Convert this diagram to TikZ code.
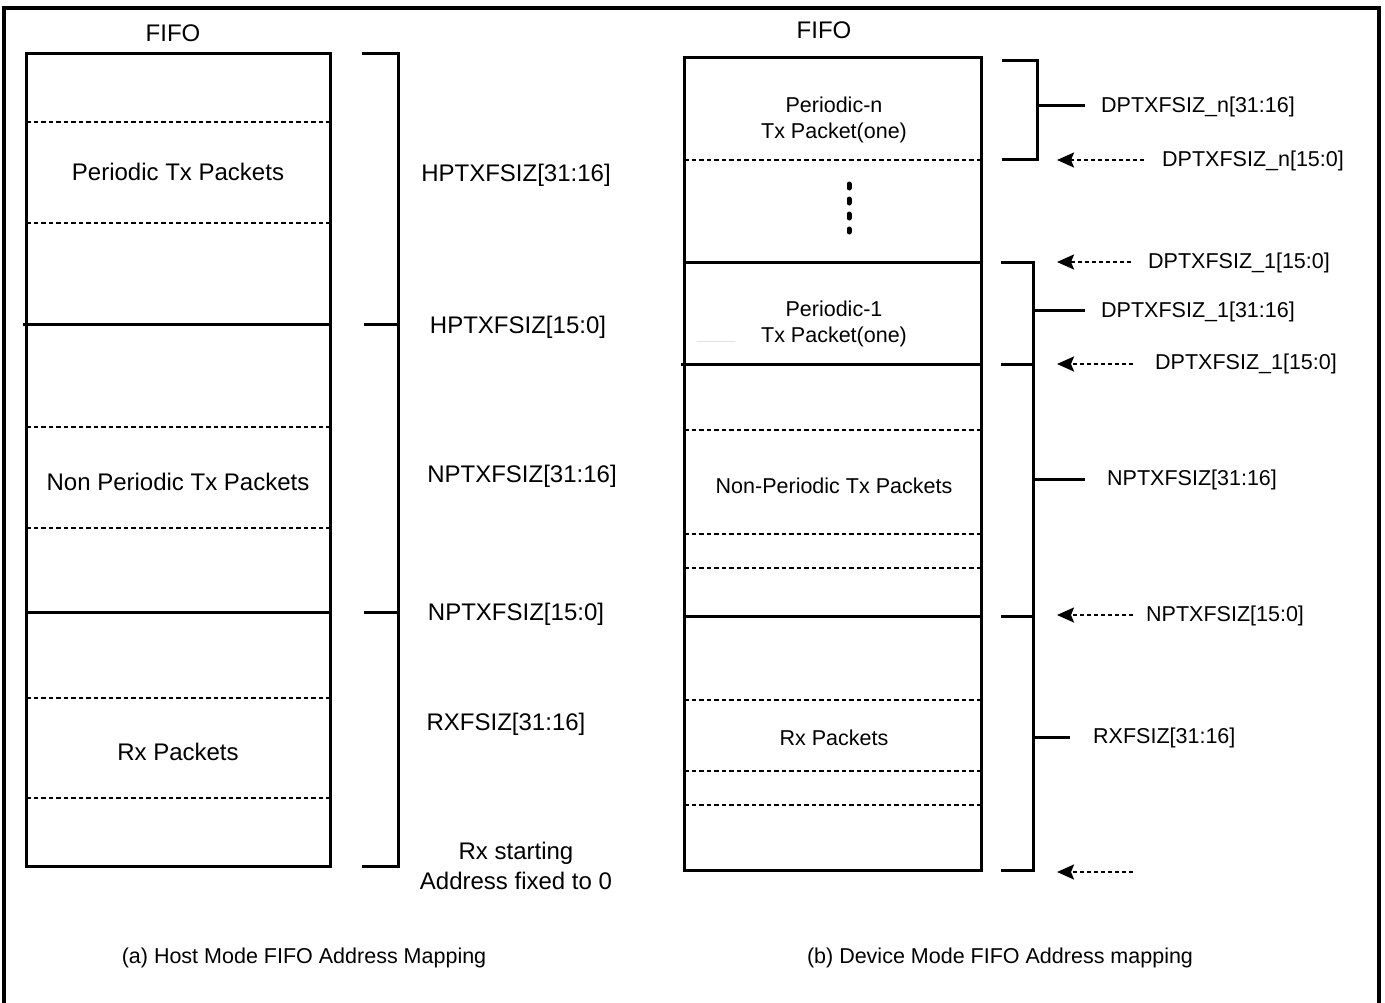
\documentclass[tikz,border=0pt]{standalone}
\usepackage{fontspec}
\setmainfont{Liberation Sans}
\usetikzlibrary{arrows.meta}
\begin{document}
\begin{tikzpicture}[x=1pt,y=-1pt,
  boxline/.style={line width=3pt},
  dline/.style={line width=2.8pt, dash pattern=on 4.5pt off 3pt},
  brk/.style={line width=3pt},
  ptr/.style={line width=2.4pt, dash pattern=on 4pt off 3pt, -{Stealth[length=17pt,width=15pt,inset=3pt]}},
  big/.style={font=\fontsize{24}{30}\selectfont, align=center, inner sep=0pt},
  small/.style={font=\fontsize{21.5}{26}\selectfont, align=center, inner sep=0pt},
]
\useasboundingbox (0,0) rectangle (1385,1002);
% outer frame
\draw[line width=3.5pt] (4,1012) -- (4,8) -- (1379,8) -- (1379,1012);

% ================= (a) Host mode =================
\node[big] (fifoA) at (173,33) {FIFO};
\node[draw, boxline, minimum width=304pt, minimum height=813pt, inner sep=0pt] (boxA) at (178,459.5) {};
\draw[dline] (26,122) -- (330,122);
\draw[dline] (26,223) -- (330,223);
\draw[boxline] (23,324) -- (330,324);
\draw[dline] (26,427) -- (330,427);
\draw[dline] (26,528) -- (330,528);
\draw[boxline] (26,612) -- (330,612);
\draw[dline] (26,698) -- (330,698);
\draw[dline] (26,798) -- (330,798);
\node[big] (pA) at (178,172) {Periodic Tx Packets};
\node[big] (npA) at (178,482) {Non Periodic Tx Packets};
\node[big] (rxA) at (178,752) {Rx Packets};

% bracket
\draw[brk] (362,53) -- (398,53) -- (398,866) -- (362,866);
\draw[brk] (364,324) -- (398,324);
\draw[brk] (364,612) -- (398,612);
\node[big] (h3116) at (516,175) {HPTXFSIZ[31:16]};
\node[big] (h150) at (518,327) {HPTXFSIZ[15:0]};
\node[big] (n3116) at (522,476) {NPTXFSIZ[31:16]};
\node[big] (n150) at (516,614) {NPTXFSIZ[15:0]};
\node[big] (r3116) at (506,724) {RXFSIZ[31:16]};
\node[big] (rxs) at (516,866) {Rx starting\\Address fixed to 0};

\node[small] (capA) at (304,958) {(a) Host Mode FIFO Address Mapping};

% ================= (b) Device mode =================
\node[big] (fifoB) at (824,30) {FIFO};
\node[draw, boxline, minimum width=297pt, minimum height=813pt, inner sep=0pt] (boxB) at (832.5,463.5) {};
\draw[dline] (684,160) -- (981,160);
\draw[boxline] (684,262) -- (981,262);
\draw[boxline] (681,364) -- (981,364);
\draw[dline] (684,430) -- (981,430);
\draw[dline] (684,534) -- (981,534);
\draw[dline] (684,568) -- (981,568);
\draw[boxline] (684,616) -- (981,616);
\draw[dline] (684,700) -- (981,700);
\draw[dline] (684,771) -- (981,771);
\draw[dline] (684,805) -- (981,805);
\node[small] (pn) at (834,120) {Periodic-n\\Tx Packet(one)};
\draw[line width=5pt, line cap=round, dash pattern=on 4pt off 11pt] (849,184) -- (849,232);
\node[small] (p1) at (834,323.5) {Periodic-1\\Tx Packet(one)};
\draw[gray!25, line width=1pt] (697,341) -- (735,341);
\node[small] (npB) at (834,486) {Non-Periodic Tx Packets};
\node[small] (rxB) at (834,738) {Rx Packets};

% top bracket
\draw[brk] (1002,60) -- (1037,60) -- (1037,159) -- (1002,159);
\draw[brk] (1037,105) -- (1085,105);
\node[small, anchor=west] (dn3116) at (1101,107) {DPTXFSIZ\_n[31:16]};
\node[small, anchor=west] (dn150) at (1162,161) {DPTXFSIZ\_n[15:0]};
\coordinate (an) at (1057,160);
\draw[ptr] (1144,160) -- (an);

% lower bracket
\draw[brk] (1001,262) -- (1033,262) -- (1033,870) -- (1001,870);
\draw[brk] (1001,364) -- (1033,364);
\draw[brk] (1001,616) -- (1033,616);
\draw[brk] (1033,310) -- (1085,310);
\draw[brk] (1033,479) -- (1085,479);
\draw[brk] (1033,737) -- (1070,737);
\node[small, anchor=west] (d13116) at (1101,312) {DPTXFSIZ\_1[31:16]};
\node[small, anchor=west] (nb3116) at (1107,480) {NPTXFSIZ[31:16]};
\node[small, anchor=west] (rb3116) at (1093,738) {RXFSIZ[31:16]};

\node[small, anchor=west] (d1a) at (1148,263) {DPTXFSIZ\_1[15:0]};
\node[small, anchor=west] (d1b) at (1155,364) {DPTXFSIZ\_1[15:0]};
\node[small, anchor=west] (nb150) at (1146,616) {NPTXFSIZ[15:0]};
\coordinate (a1) at (1057,262);
\coordinate (a2) at (1057,364);
\coordinate (a3) at (1057,615);
\coordinate (a4) at (1057,872);
\coordinate (s4) at (1133,872);
\draw[ptr] (1131,262) -- (a1);
\draw[ptr] (1133,364) -- (a2);
\draw[ptr] (1133,615) -- (a3);
\draw[ptr] (s4) -- (a4);

\node[small] (capB) at (1000,958) {(b) Device Mode FIFO Address mapping};
\end{tikzpicture}
\end{document}
